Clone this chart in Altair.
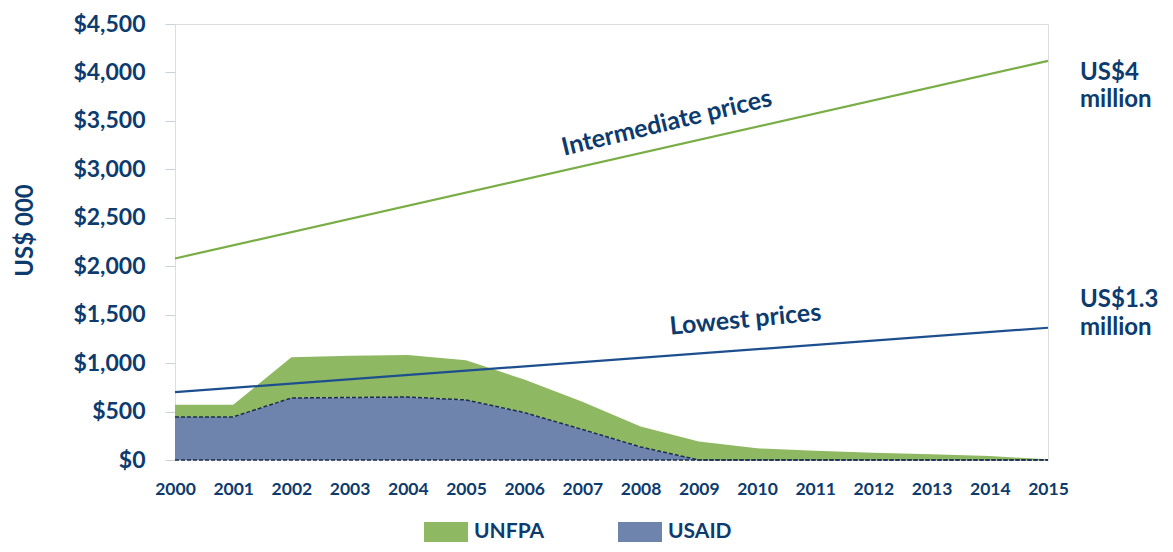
import altair as alt
import pandas as pd

years = list(range(2000, 2016))
usaid = [445, 445, 640, 645, 650, 620, 490, 315, 135, 0, 0, 0, 0, 0, 0, 0]
unfpa = [125, 125, 420, 430, 435, 410, 340, 285, 210, 190, 120, 95, 75, 60, 40, 8]

line_years = [2000, 2015]
intermediate = [2080, 4120]
lowest = [700, 1365]

series_names = ["UNFPA", "USAID"]
series_colors = ["#8fb862", "#6f84ad"]

NAVY = "#0d3b6e"
FONT = "Lato"

rows = []
for i, y in enumerate(years):
    rows.append({"year": y, "series": "USAID", "value": usaid[i], "ord": 0})
    rows.append({"year": y, "series": "UNFPA", "value": unfpa[i], "ord": 1})
area_df = pd.DataFrame(rows)
usaid_df = pd.DataFrame({"year": years, "value": usaid})
lines_df = pd.DataFrame({"year": line_years, "inter": intermediate, "low": lowest})

labels_df = pd.DataFrame({
    "text": ["Intermediate prices", "Lowest prices"],
    "x": [2008.45, 2009.8],
    "y": [3480, 1450],
    "angle": [346.5, 354.5],
})
right_df = pd.DataFrame({
    "text": ["US$4", "million", "US$1.3", "million"],
    "x": [2015.55, 2015.55, 2015.55, 2015.55],
    "y": [3922, 3640, 1579, 1290],
})

xs = alt.Scale(domain=[2000, 2015], nice=False, zero=False)
ys = alt.Scale(domain=[0, 4500], nice=False)

area = alt.Chart(area_df).mark_area(opacity=1).encode(
    x=alt.X("year:Q", scale=xs,
            axis=alt.Axis(values=years, format="d", title=None, domain=False, ticks=False,
                          grid=False, labelFont=FONT, labelFontSize=17.5, labelFontWeight="bold",
                          labelColor=NAVY, labelPadding=20, labelOverlap=False, labelFlush=False)),
    y=alt.Y("value:Q", stack="zero", scale=ys,
            axis=alt.Axis(values=list(range(0, 4501, 500)), format="$,.0f", title="US$ 000",
                          domain=False, grid=False, tickColor="#c9d1dc", tickSize=10,
                          labelFont=FONT, labelFontSize=23, labelFontWeight="bold",
                          labelColor=NAVY, labelPadding=20, labelOverlap=False,
                          titleFont=FONT, titleFontSize=24, titleFontWeight="bold",
                          titleColor=NAVY, titleAngle=270, titleX=-150, titleY=206,
                          titleBaseline="middle", titleAlign="center")),
    color=alt.Color("series:N", scale=alt.Scale(domain=series_names, range=series_colors),
                    legend=alt.Legend(title=None, orient="none", legendX=249, legendY=486,
                                      direction="horizontal",
                                      symbolType="M-1,-0.4545L1,-0.4545L1,0.4545L-1,0.4545Z",
                                      symbolSize=1936, symbolStrokeWidth=0, symbolOpacity=1,
                                      labelFont=FONT, labelFontSize=21, labelFontWeight="bold",
                                      labelColor=NAVY, labelOffset=6, columnPadding=73,
                                      padding=0)),
    order=alt.Order("ord:Q"),
)

usaid_edge = alt.Chart(usaid_df).mark_line(color="#1b2d52", strokeWidth=1.5, strokeDash=[4, 2]).encode(
    x=alt.X("year:Q", scale=xs), y=alt.Y("value:Q", scale=ys))

baseline = alt.Chart(pd.DataFrame({"year": line_years, "v": [0, 0]})).mark_line(
    color="#1b2d52", strokeWidth=1.5, strokeDash=[4, 2]).encode(
    x=alt.X("year:Q", scale=xs), y=alt.Y("v:Q", scale=ys))

inter_line = alt.Chart(lines_df).mark_line(color="#79ad45", strokeWidth=2.2).encode(
    x=alt.X("year:Q", scale=xs), y=alt.Y("inter:Q", scale=ys))
low_line = alt.Chart(lines_df).mark_line(color="#1d4f8f", strokeWidth=2.2).encode(
    x=alt.X("year:Q", scale=xs), y=alt.Y("low:Q", scale=ys))

line_labels = alt.Chart(labels_df).mark_text(
    font=FONT, fontSize=25, fontWeight="bold", color=NAVY, align="center", baseline="middle"
).encode(x=alt.X("x:Q", scale=xs), y=alt.Y("y:Q", scale=ys), text="text:N",
         angle=alt.Angle("angle:Q", scale=None))

right_labels = alt.Chart(right_df).mark_text(
    font=FONT, fontSize=24, fontWeight="bold", color=NAVY, align="left", baseline="alphabetic"
).encode(x=alt.X("x:Q", scale=xs), y=alt.Y("y:Q", scale=ys), text="text:N")

chart = alt.layer(area, usaid_edge, baseline, inter_line, low_line, line_labels, right_labels).properties(
    width=873, height=436,
    autosize=alt.AutoSizeParams(type="none"),
    padding={"left": 167, "top": 16, "right": 110, "bottom": 82},
).configure_view(strokeWidth=0).configure(background="white")

chart.save("out.html", embed_options={"renderer": "svg", "actions": False})
